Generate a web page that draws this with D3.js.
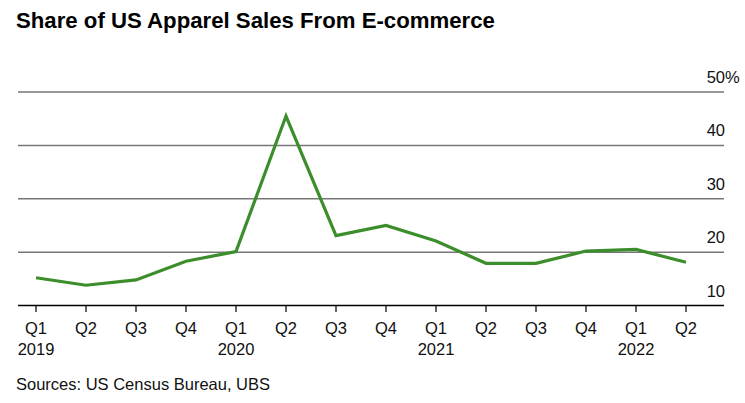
<!DOCTYPE html>
<html><head><meta charset="utf-8">
<script src="https://cdn.jsdelivr.net/npm/d3@7"></script>
<style>
body{margin:0;background:#fff;}
svg text{font-family:"Liberation Sans",Arial,Helvetica,sans-serif;}
</style></head>
<body><svg id="c" width="745" height="403"></svg>
<script>
const quarters = ["Q1","Q2","Q3","Q4","Q1","Q2","Q3","Q4","Q1","Q2","Q3","Q4","Q1","Q2"];
const years = ["2019","","","","2020","","","","2021","","","","2022",""];
const values = [15.2,13.8,14.8,18.3,20.1,45.5,23.1,25.0,22.1,17.9,17.9,20.2,20.5,18.1];
const yTicks = [10,20,30,40,50];
const title = "Share of US Apparel Sales From E-commerce";
const source = "Sources: US Census Bureau, UBS";

const svg = d3.select("#c");
const x = d3.scalePoint().domain(d3.range(values.length)).range([36,686]);
const y = d3.scaleLinear().domain([10,50]).range([305.5,92]);
const left = 18, right = 724;
const fs = 16.5;

svg.append("text").attr("x",16).attr("y",28).attr("font-size",22.2).attr("font-weight","bold").attr("fill","#000").text(title);

// gridlines
const g = svg.append("g");
yTicks.forEach(t=>{
  g.append("line").attr("x1",left).attr("x2",right).attr("y1",y(t)).attr("y2",y(t))
   .attr("stroke", t===10 ? "#000" : "#777").attr("stroke-width",1.5);
  const lab = g.append("text").attr("y",y(t)-9).attr("font-size",fs).attr("fill","#111");
  lab.append("tspan").text(t);
  const w = lab.node().getComputedTextLength();
  lab.attr("x",725-w);
  if(t===50) lab.append("tspan").text("%");
});

// x axis ticks
const ax = svg.append("g");
quarters.forEach((q,i)=>{
  ax.append("line").attr("x1",x(i)).attr("x2",x(i)).attr("y1",y(10)).attr("y2",312).attr("stroke","#000").attr("stroke-width",1.2);
  ax.append("text").attr("x",x(i)).attr("y",334).attr("font-size",fs).attr("text-anchor","middle").attr("fill","#111").text(q);
  if(years[i]) ax.append("text").attr("x",x(i)).attr("y",355).attr("font-size",fs).attr("text-anchor","middle").attr("fill","#111").text(years[i]);
});

const line = d3.line().x((d,i)=>x(i)).y(d=>y(d));
svg.append("path").datum(values).attr("d",line).attr("fill","none").attr("stroke","#3b8e2b").attr("stroke-width",3.2).attr("stroke-linejoin","miter");

svg.append("text").attr("x",16).attr("y",390).attr("font-size",fs).attr("fill","#111").text(source);
</script></body></html>
